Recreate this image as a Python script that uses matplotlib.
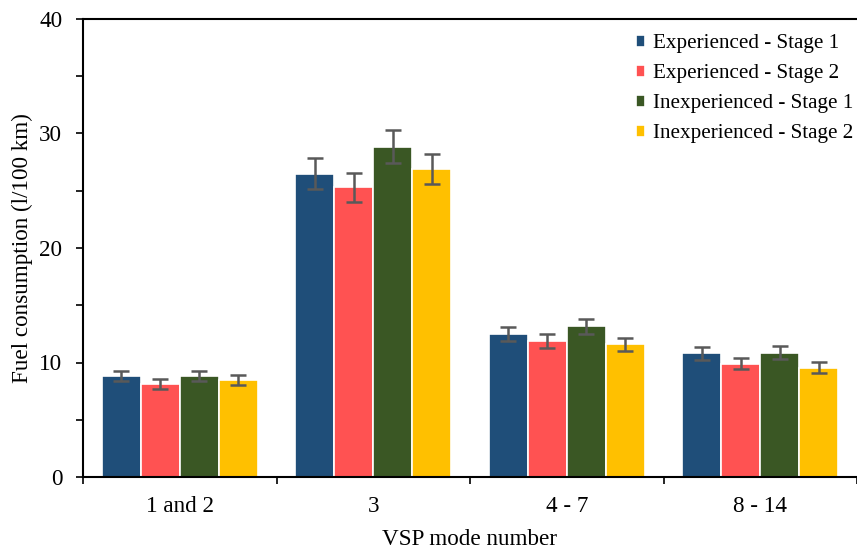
import numpy as np
import matplotlib.pyplot as plt
from matplotlib.ticker import MultipleLocator

plt.rcParams['font.family'] = ['Liberation Serif', 'DejaVu Serif']

# ---- data
modes = ['1 and 2', '3', '4 - 7', '8 - 14']
series = ['Experienced - Stage 1', 'Experienced - Stage 2',
          'Inexperienced - Stage 1', 'Inexperienced - Stage 2']
exp_s1 = [8.8, 26.5, 12.5, 10.8]
exp_s2 = [8.1, 25.3, 11.9, 9.9]
inexp_s1 = [8.8, 28.85, 13.15, 10.85]
inexp_s2 = [8.5, 26.9, 11.6, 9.55]
err_exp_s1 = [0.45, 1.35, 0.64, 0.57]
err_exp_s2 = [0.42, 1.27, 0.62, 0.51]
err_inexp_s1 = [0.45, 1.45, 0.67, 0.57]
err_inexp_s2 = [0.44, 1.35, 0.58, 0.48]

values = [exp_s1, exp_s2, inexp_s1, inexp_s2]
errors = [err_exp_s1, err_exp_s2, err_inexp_s1, err_inexp_s2]
colors = ['#1F4E79', '#FF5252', '#3A5724', '#FFC000']

fig = plt.figure(figsize=(8.57, 5.5), dpi=100)
ax = fig.add_axes([83/857, 73/550, 774/857, 458/550])

x = np.arange(len(modes))
w = 0.202
for i in range(4):
    ax.bar(x + (i - 1.5) * w, values[i], w, color=colors[i], edgecolor='white',
           linewidth=1.2, label=series[i],
           yerr=errors[i], error_kw=dict(ecolor='#595959', elinewidth=1.8,
                                         capsize=6, capthick=1.8))

ax.set_xlim(-0.5, 3.459)
ax.set_ylim(0, 40)
ax.yaxis.set_major_locator(MultipleLocator(10))
ax.yaxis.set_minor_locator(MultipleLocator(5))
ax.set_xticks(x)
ax.set_xticklabels(modes)
ax.set_xticks(np.arange(-0.5, 4, 1), minor=True)
ax.tick_params(axis='x', which='major', length=0, pad=14, labelsize=16.7)
ax.tick_params(axis='x', which='minor', length=5, width=1.2, direction='out')
ax.tick_params(axis='y', which='both', length=5, width=1.2, direction='out',
               labelsize=16.7, pad=10)

ax.spines['right'].set_visible(False)
for s in ['left', 'bottom', 'top']:
    ax.spines[s].set_linewidth(1.5)

ax.set_ylabel('Fuel consumption (l/100 km)', fontsize=16.7, labelpad=4)
ax.set_xlabel('VSP mode number', fontsize=16.7, labelpad=8)

ax.legend(loc='upper right', bbox_to_anchor=(1.003, 0.98), frameon=False,
          fontsize=15.2, handlelength=0.45, handleheight=0.45,
          handletextpad=0.35, labelspacing=0.52, borderaxespad=0, borderpad=0.3)

plt.savefig('out.png', dpi=100)
